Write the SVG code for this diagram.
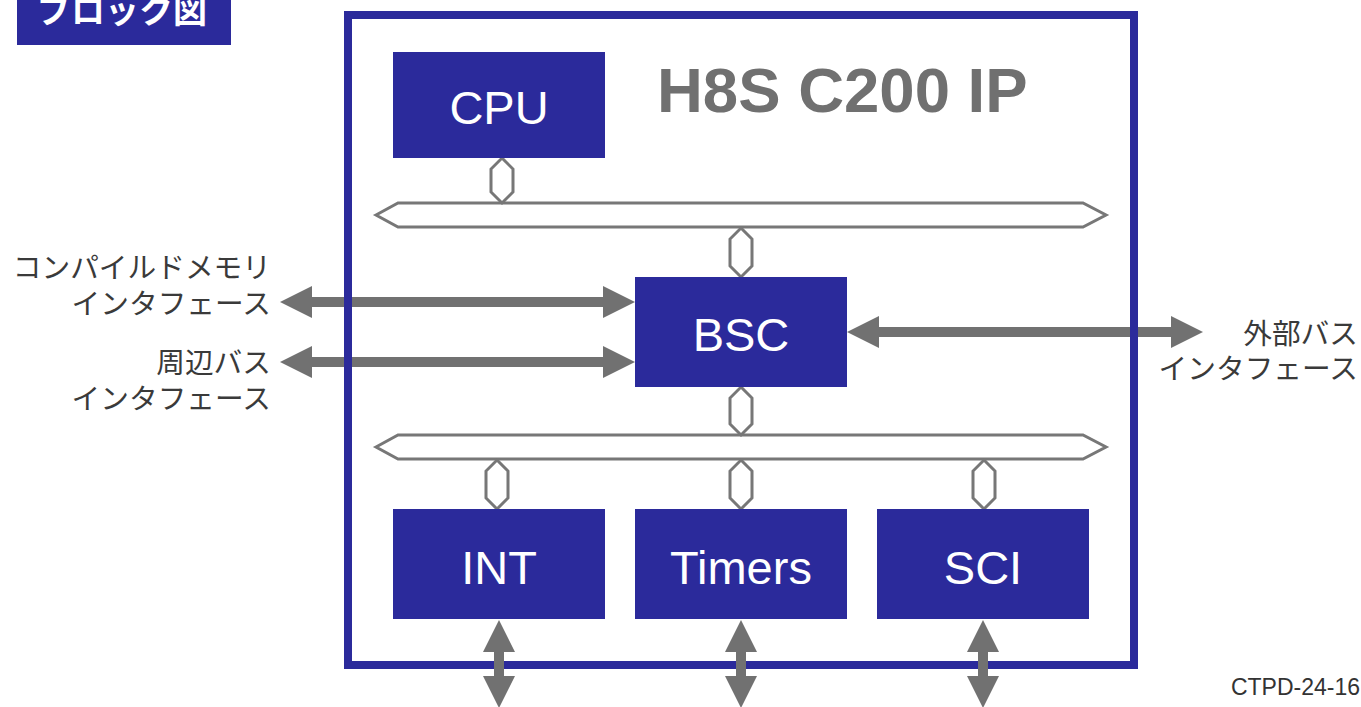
<svg xmlns="http://www.w3.org/2000/svg" width="1361" height="707" viewBox="0 0 1361 707">
<style>
.blk{fill:#2B2A9B}
.bt{fill:#fff;font-family:"Liberation Sans",Arial,sans-serif;font-size:47px;text-anchor:middle}
.bus{fill:#fff;stroke:#777;stroke-width:3;stroke-linejoin:miter}
.arr{fill:#717171}
.lbl{fill:#3a3a3a;font-family:"Noto Sans CJK JP","Liberation Sans",sans-serif;font-size:28.7px;text-anchor:end}
</style>
<rect width="1361" height="707" fill="#fff"/>
<g id="title-label">
<rect x="17" y="-5" width="214" height="50" class="blk"/>
<text x="37" y="23" fill="#fff" font-family="Noto Sans CJK JP, sans-serif" font-weight="bold" font-size="34">ブロック図</text>
</g>
<g id="connectors-h">
<polygon class="arr" points="280,302 312,286 312,297 603,297 603,286 635,302 603,318 603,307 312,307 312,318"/>
<polygon class="arr" points="280,362 312,346 312,357 603,357 603,346 635,362 603,378 603,367 312,367 312,378"/>
<polygon class="arr" points="847,332 879,316 879,327 1171,327 1171,316 1203,332 1171,348 1171,337 879,337 879,348"/>
</g>
<g id="frame">
<rect x="348" y="15" width="786" height="650" fill="none" stroke="#2B2A9B" stroke-width="8"/>
<text x="657" y="112" fill="#707070" font-family="Liberation Sans, Arial, sans-serif" font-weight="bold" font-size="63.5">H8S C200 IP</text>
</g>
<g id="buses">
<polygon class="bus" points="376,215 398,203 1083,203 1106,215 1083,227 398,227"/>
<polygon class="bus" points="376,447 398,435 1083,435 1106,447 1083,459 398,459"/>
</g>
<g id="connectors">
<polygon class="bus" points="502,158 513,169 513,192 502,203 491,192 491,169"/>
<polygon class="bus" points="741,228 752,239 752,266 741,277 730,266 730,239"/>
<polygon class="bus" points="741,387 752,398 752,424 741,435 730,424 730,398"/>
<polygon class="bus" points="497,460 508,471 508,498 497,509 486,498 486,471"/>
<polygon class="bus" points="741,460 752,471 752,498 741,509 730,498 730,471"/>
<polygon class="bus" points="984,460 995,471 995,498 984,509 973,498 973,471"/>
<polygon class="arr" points="499,620 515,652 504,652 504,676 515,676 499,708 483,676 494,676 494,652 483,652"/>
<polygon class="arr" points="741,620 757,652 746,652 746,676 757,676 741,708 725,676 736,676 736,652 725,652"/>
<polygon class="arr" points="983,620 999,652 988,652 988,676 999,676 983,708 967,676 978,676 978,652 967,652"/>
</g>
<g id="cpu">
<rect x="393" y="52" width="212" height="106" class="blk"/>
<text x="499" y="124" class="bt" font-size="48">CPU</text>
</g>
<g id="bsc">
<rect x="635" y="277" width="212" height="110" class="blk"/>
<text x="741" y="351" class="bt">BSC</text>
</g>
<g id="int">
<rect x="393" y="509" width="212" height="110" class="blk"/>
<text x="499" y="584" class="bt">INT</text>
</g>
<g id="timers">
<rect x="635" y="509" width="212" height="110" class="blk"/>
<text x="741" y="584" class="bt">Timers</text>
</g>
<g id="sci">
<rect x="877" y="509" width="212" height="110" class="blk"/>
<text x="983" y="584" class="bt">SCI</text>
</g>
<g id="labels">
<text x="271" y="278" class="lbl">コンパイルドメモリ</text>
<text x="271" y="314" class="lbl">インタフェース</text>
<text x="271" y="373" class="lbl">周辺バス</text>
<text x="271" y="409" class="lbl">インタフェース</text>
<text x="1358" y="344" class="lbl">外部バス</text>
<text x="1358" y="379" class="lbl">インタフェース</text>
<text x="1360" y="695" fill="#333" font-family="Liberation Sans, Arial, sans-serif" font-size="23" text-anchor="end">CTPD-24-16</text>
</g>
</svg>
